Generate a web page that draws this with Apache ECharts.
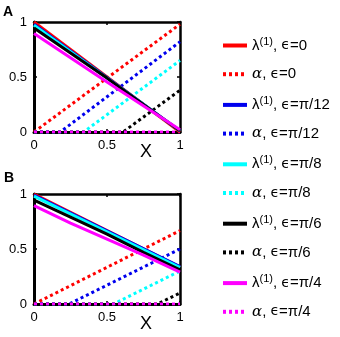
<!DOCTYPE html>
<html>
<head>
<meta charset="utf-8">
<script src="https://cdn.jsdelivr.net/npm/echarts@6/dist/echarts.min.js"></script>
<style>
  html, body { margin: 0; padding: 0; background: #fff; }
  #chart { width: 340px; height: 337px; }
</style>
</head>
<body>
<div id="chart"></div>
<script>
// epsilon values, one per colour
const epsLabels = ['0', 'π/12', 'π/8', 'π/6', 'π/4'];
const colors = ['#ff0000', '#0000ee', '#00ffff', '#000000', '#ff00ff'];
const xTicks = [0, 0.5, 1];

// panel A: lambda^(1) curves
const lamA0 = [[0, 1], [1, 0]];
const lamA12 = [[0, 0.98], [1, 0.01]];
const lamA8 = [[0, 0.97], [1, 0.01]];
const lamA6 = [[0, 0.945], [0.5, 0.49], [1, 0.01]];
const lamA4 = [[0, 0.895], [0.5, 0.455], [1, 0.02]];
// panel A: alpha curves
const alpA0 = [[0, 0], [1, 0.98]];
const alpA12 = [[0, 0], [0.18, 0], [1, 0.82]];
const alpA8 = [[0, 0], [0.34, 0], [1, 0.65]];
const alpA6 = [[0, 0], [0.61, 0], [1, 0.38]];
const alpA4 = [[0, 0], [1, 0]];

// panel B: lambda^(1) curves
const lamB0 = [[0, 1], [1, 0.335]];
const lamB12 = [[0, 0.99], [1, 0.34]];
const lamB8 = [[0, 0.98], [1, 0.33]];
const lamB6 = [[0, 0.945], [0.25, 0.79], [0.5, 0.635], [0.75, 0.47], [1, 0.31]];
const lamB4 = [[0, 0.895], [0.25, 0.735], [0.5, 0.59], [0.75, 0.445], [1, 0.29]];
// panel B: alpha curves
const alpB0 = [[0, 0], [1, 0.667]];
const alpB12 = [[0, 0], [0.24, 0], [1, 0.5]];
const alpB8 = [[0, 0], [0.545, 0], [1, 0.3]];
const alpB6 = [[0, 0], [0.845, 0], [1, 0.1]];
const alpB4 = [[0, 0], [1, 0]];

const lamA = [lamA0, lamA12, lamA8, lamA6, lamA4];
const alpA = [alpA0, alpA12, alpA8, alpA6, alpA4];
const lamB = [lamB0, lamB12, lamB8, lamB6, lamB4];
const alpB = [alpB0, alpB12, alpB8, alpB6, alpB4];

const FONT = 'Liberation Sans';
const lamName = (i) => 'λ, ϵ=' + epsLabels[i];
const alpName = (i) => 'α, ϵ=' + epsLabels[i];

const chart = echarts.init(document.getElementById('chart'), null, { renderer: 'canvas' });

const grids = [
  { left: 34, top: 22, width: 146, height: 110 },
  { left: 34, top: 194, width: 146, height: 110 },
];

function xAx(gridIndex, pos, labels) {
  return {
    type: 'value', gridIndex, position: pos, min: 0, max: 1, interval: 0.5,
    axisLine: { show: true, onZero: false, lineStyle: { color: '#000', width: labels ? 3 : 2.5 } },
    axisTick: { show: true, inside: true, length: 3, lineStyle: { color: '#000', width: 1.5 } },
    axisLabel: {
      show: labels, color: '#000', fontSize: 13, fontFamily: FONT, margin: 7,
      formatter: (v) => (xTicks.includes(v) ? String(v) : ''),
    },
    splitLine: { show: false },
  };
}
function yAx(gridIndex, pos, labels) {
  return {
    type: 'value', gridIndex, position: pos, min: 0, max: 1, interval: 0.5,
    axisLine: { show: true, onZero: false, lineStyle: { color: '#000', width: labels ? 3 : 2.5 } },
    axisTick: { show: true, inside: true, length: 3, lineStyle: { color: '#000', width: 1.5 } },
    axisLabel: { show: labels, color: '#000', fontSize: 13, fontFamily: FONT, margin: 7 },
    splitLine: { show: false },
  };
}

const series = [];
[[lamA, alpA], [lamB, alpB]].forEach(([lams, alps], p) => {
  for (let i = 0; i < 5; i++) {
    series.push({
      name: lamName(i), type: 'line', xAxisIndex: p * 2, yAxisIndex: p * 2,
      data: lams[i], symbol: 'none', animation: false,
      lineStyle: { color: colors[i], width: 3 }, itemStyle: { color: colors[i] },
      z: 3,
    });
  }
  for (let i = 0; i < 5; i++) {
    series.push({
      name: alpName(i), type: 'line', xAxisIndex: p * 2, yAxisIndex: p * 2,
      data: alps[i], symbol: 'none', animation: false,
      lineStyle: { color: colors[i], width: 3, type: [3, 3] }, itemStyle: { color: colors[i] },
      z: 2,
    });
  }
});

const legendData = [];
for (let i = 0; i < 5; i++) {
  legendData.push(lamName(i), alpName(i));
}

chart.setOption({
  backgroundColor: '#fff',
  animation: false,
  grid: grids,
  xAxis: [xAx(0, 'bottom', true), xAx(0, 'top', false), xAx(1, 'bottom', true), xAx(1, 'top', false)],
  yAxis: [yAx(0, 'left', true), yAx(0, 'right', false), yAx(1, 'left', true), yAx(1, 'right', false)],
  legend: {
    orient: 'vertical', left: 221, top: 36, padding: 0,
    itemWidth: 24, itemHeight: 14, itemGap: 13.7,
    data: legendData,
    itemStyle: { opacity: 0 },
    lineStyle: { width: 4 },
    formatter: (name) => {
      const eps = name.split('=')[1];
      if (name[0] === 'λ') return '{n|λ}{s|(1)}{n|, }{e|ϵ}{n|=' + eps + '}';
      return '{a|α}{n|, }{e|ϵ}{n|=' + eps + '}';
    },
    textStyle: {
      color: '#000', fontFamily: FONT, fontSize: 15,
      rich: {
        n: { fontSize: 15, fontFamily: FONT, color: '#000' },
        e: { fontSize: 14, fontFamily: 'DejaVu Sans', color: '#000' },
        a: { fontSize: 15, fontFamily: 'DejaVu Serif', fontStyle: 'italic', color: '#000' },
        s: { fontSize: 11, fontFamily: FONT, color: '#000', padding: [0, 0, 8, 0] },
      },
    },
  },
  graphic: [
    { type: 'text', left: 3, top: 5, style: { text: 'A', font: 'bold 14px "Liberation Sans"', fill: '#000' } },
    { type: 'text', left: 4, top: 171, style: { text: 'B', font: 'bold 14px "Liberation Sans"', fill: '#000' } },
    { type: 'text', left: 140, top: 143, style: { text: 'X', font: '18px "Liberation Sans"', fill: '#000' } },
    { type: 'text', left: 140, top: 315, style: { text: 'X', font: '18px "Liberation Sans"', fill: '#000' } },
  ],
  series,
});
</script>
</body>
</html>
